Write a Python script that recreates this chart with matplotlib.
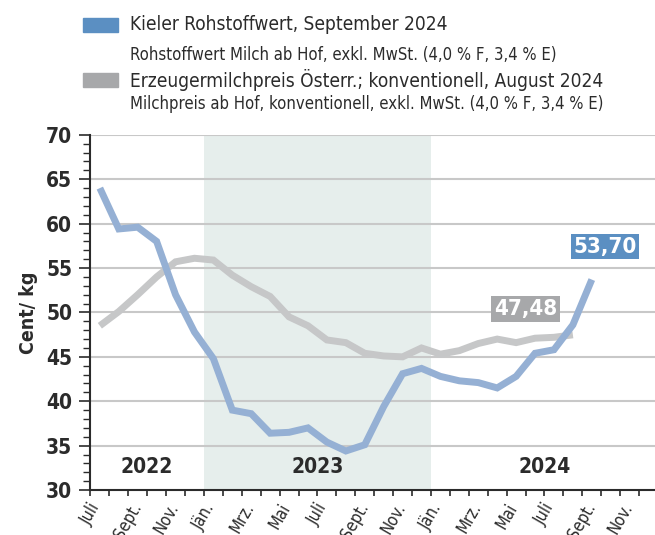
import matplotlib
matplotlib.use("Agg")
import matplotlib.pyplot as plt
from matplotlib.patches import Rectangle
from matplotlib.ticker import MultipleLocator

plt.rcParams['font.family'] = ['DejaVu Sans']
plt.rcParams['font.stretch'] = 'condensed'

# Monthly values, Juli 2022 onwards (cent/kg)
kieler = [64.0, 59.4, 59.6, 58.0, 52.0, 47.8, 44.8, 39.0, 38.6, 36.4, 36.5, 37.0,
          35.4, 34.4, 35.1, 39.4, 43.1, 43.7, 42.8, 42.3, 42.1, 41.5, 42.8, 45.4,
          45.8, 48.6, 53.70]
milchpreis = [48.5, 50.1, 52.0, 54.0, 55.7, 56.1, 55.9, 54.2, 52.9, 51.8, 49.5, 48.5,
              46.9, 46.6, 45.4, 45.1, 45.0, 46.0, 45.3, 45.7, 46.5, 47.0, 46.6, 47.1,
              47.2, 47.48]
month_labels = ["Juli", "Sept.", "Nov.", "Jän.", "Mrz.", "Mai", "Juli", "Sept.",
                "Nov.", "Jän.", "Mrz.", "Mai", "Juli", "Sept.", "Nov."]
years = ["2022", "2023", "2024"]
year_centers = [3, 12, 24]

text_col = "#2b2b2b"
blue_line = "#95b0d4"
gray_line = "#c6c7c8"
blue_box = "#5b8fc2"
gray_box = "#a7a8aa"

fig = plt.figure(figsize=(6.55, 5.35), dpi=100)
ax = fig.add_axes([0.138, 0.084, 0.862, 0.664])

# shaded year 2023
ax.axvspan(6, 18, color="#e6eeec", zorder=0, lw=0)

for v in range(35, 71, 5):
    ax.axhline(v, color="#c8c8c8", lw=1.5, zorder=1)

x_k = [i + 0.5 for i in range(len(kieler))]
x_m = [i + 0.5 for i in range(len(milchpreis))]
ax.plot(x_m, milchpreis, color=gray_line, lw=5, zorder=3, solid_capstyle="butt",
        solid_joinstyle="miter")
ax.plot(x_k, kieler, color=blue_line, lw=5, zorder=4, solid_capstyle="butt",
        solid_joinstyle="miter")

ax.set_xlim(0, 29.84)
ax.set_ylim(30, 70)

ax.spines["top"].set_visible(False)
ax.spines["right"].set_visible(False)
ax.spines["left"].set_color(text_col)
ax.spines["bottom"].set_color(text_col)
ax.spines["left"].set_linewidth(1.5)
ax.spines["bottom"].set_linewidth(1.5)

ax.yaxis.set_major_locator(MultipleLocator(5))
ax.yaxis.set_minor_locator(MultipleLocator(1))
ax.tick_params(axis="y", which="major", length=8, width=1.2, color=text_col,
               labelsize=15, labelcolor=text_col, pad=5)
ax.tick_params(axis="y", which="minor", length=5, width=1.0, color=text_col)
for lab in ax.get_yticklabels():
    lab.set_fontweight("bold")

ax.set_xticks(range(0, 30, 2))
ax.set_xticklabels(month_labels, rotation=60, ha="center", va="top")
ax.xaxis.set_minor_locator(MultipleLocator(1))
ax.tick_params(axis="x", which="both", direction="out", length=4, width=1.2,
               color=text_col, labelsize=12, labelcolor=text_col, pad=3)

ax.set_ylabel("Cent/ kg", fontsize=14, fontweight="bold", color=text_col, labelpad=6)

for yr, xc in zip(years, year_centers):
    ax.text(xc, 32.6, yr, ha="center", va="center", fontsize=15, fontweight="bold",
            color=text_col)

# end value labels
ax.text(27.2, 57.4, "53,70", ha="center", va="center", fontsize=16, fontweight="bold",
        color="white", zorder=6,
        bbox=dict(boxstyle="square,pad=0.12", fc=blue_box, ec="none"))
ax.text(23.0, 50.4, "47,48", ha="center", va="center", fontsize=16, fontweight="bold",
        color="white", zorder=6,
        bbox=dict(boxstyle="square,pad=0.12", fc=gray_box, ec="none"))

# legend drawn by hand
fig.patches.append(Rectangle((83 / 655, 1 - 32 / 535), 35 / 655, 14 / 535,
                             transform=fig.transFigure, color=blue_box, figure=fig))
fig.patches.append(Rectangle((83 / 655, 1 - 87 / 535), 35 / 655, 14 / 535,
                             transform=fig.transFigure, color=gray_box, figure=fig))
fig.text(130 / 655, 1 - 25 / 535, "Kieler Rohstoffwert, September 2024",
         fontsize=13.7, color=text_col, va="center")
fig.text(130 / 655, 1 - 55 / 535, "Rohstoffwert Milch ab Hof, exkl. MwSt. (4,0 % F, 3,4 % E)",
         fontsize=12, color=text_col, va="center")
fig.text(130 / 655, 1 - 80 / 535, "Erzeugermilchpreis Österr.; konventionell, August 2024",
         fontsize=13.7, color=text_col, va="center")
fig.text(130 / 655, 1 - 104 / 535, "Milchpreis ab Hof, konventionell, exkl. MwSt. (4,0 % F, 3,4 % E)",
         fontsize=12, color=text_col, va="center")

fig.savefig("out.png", dpi=100)
